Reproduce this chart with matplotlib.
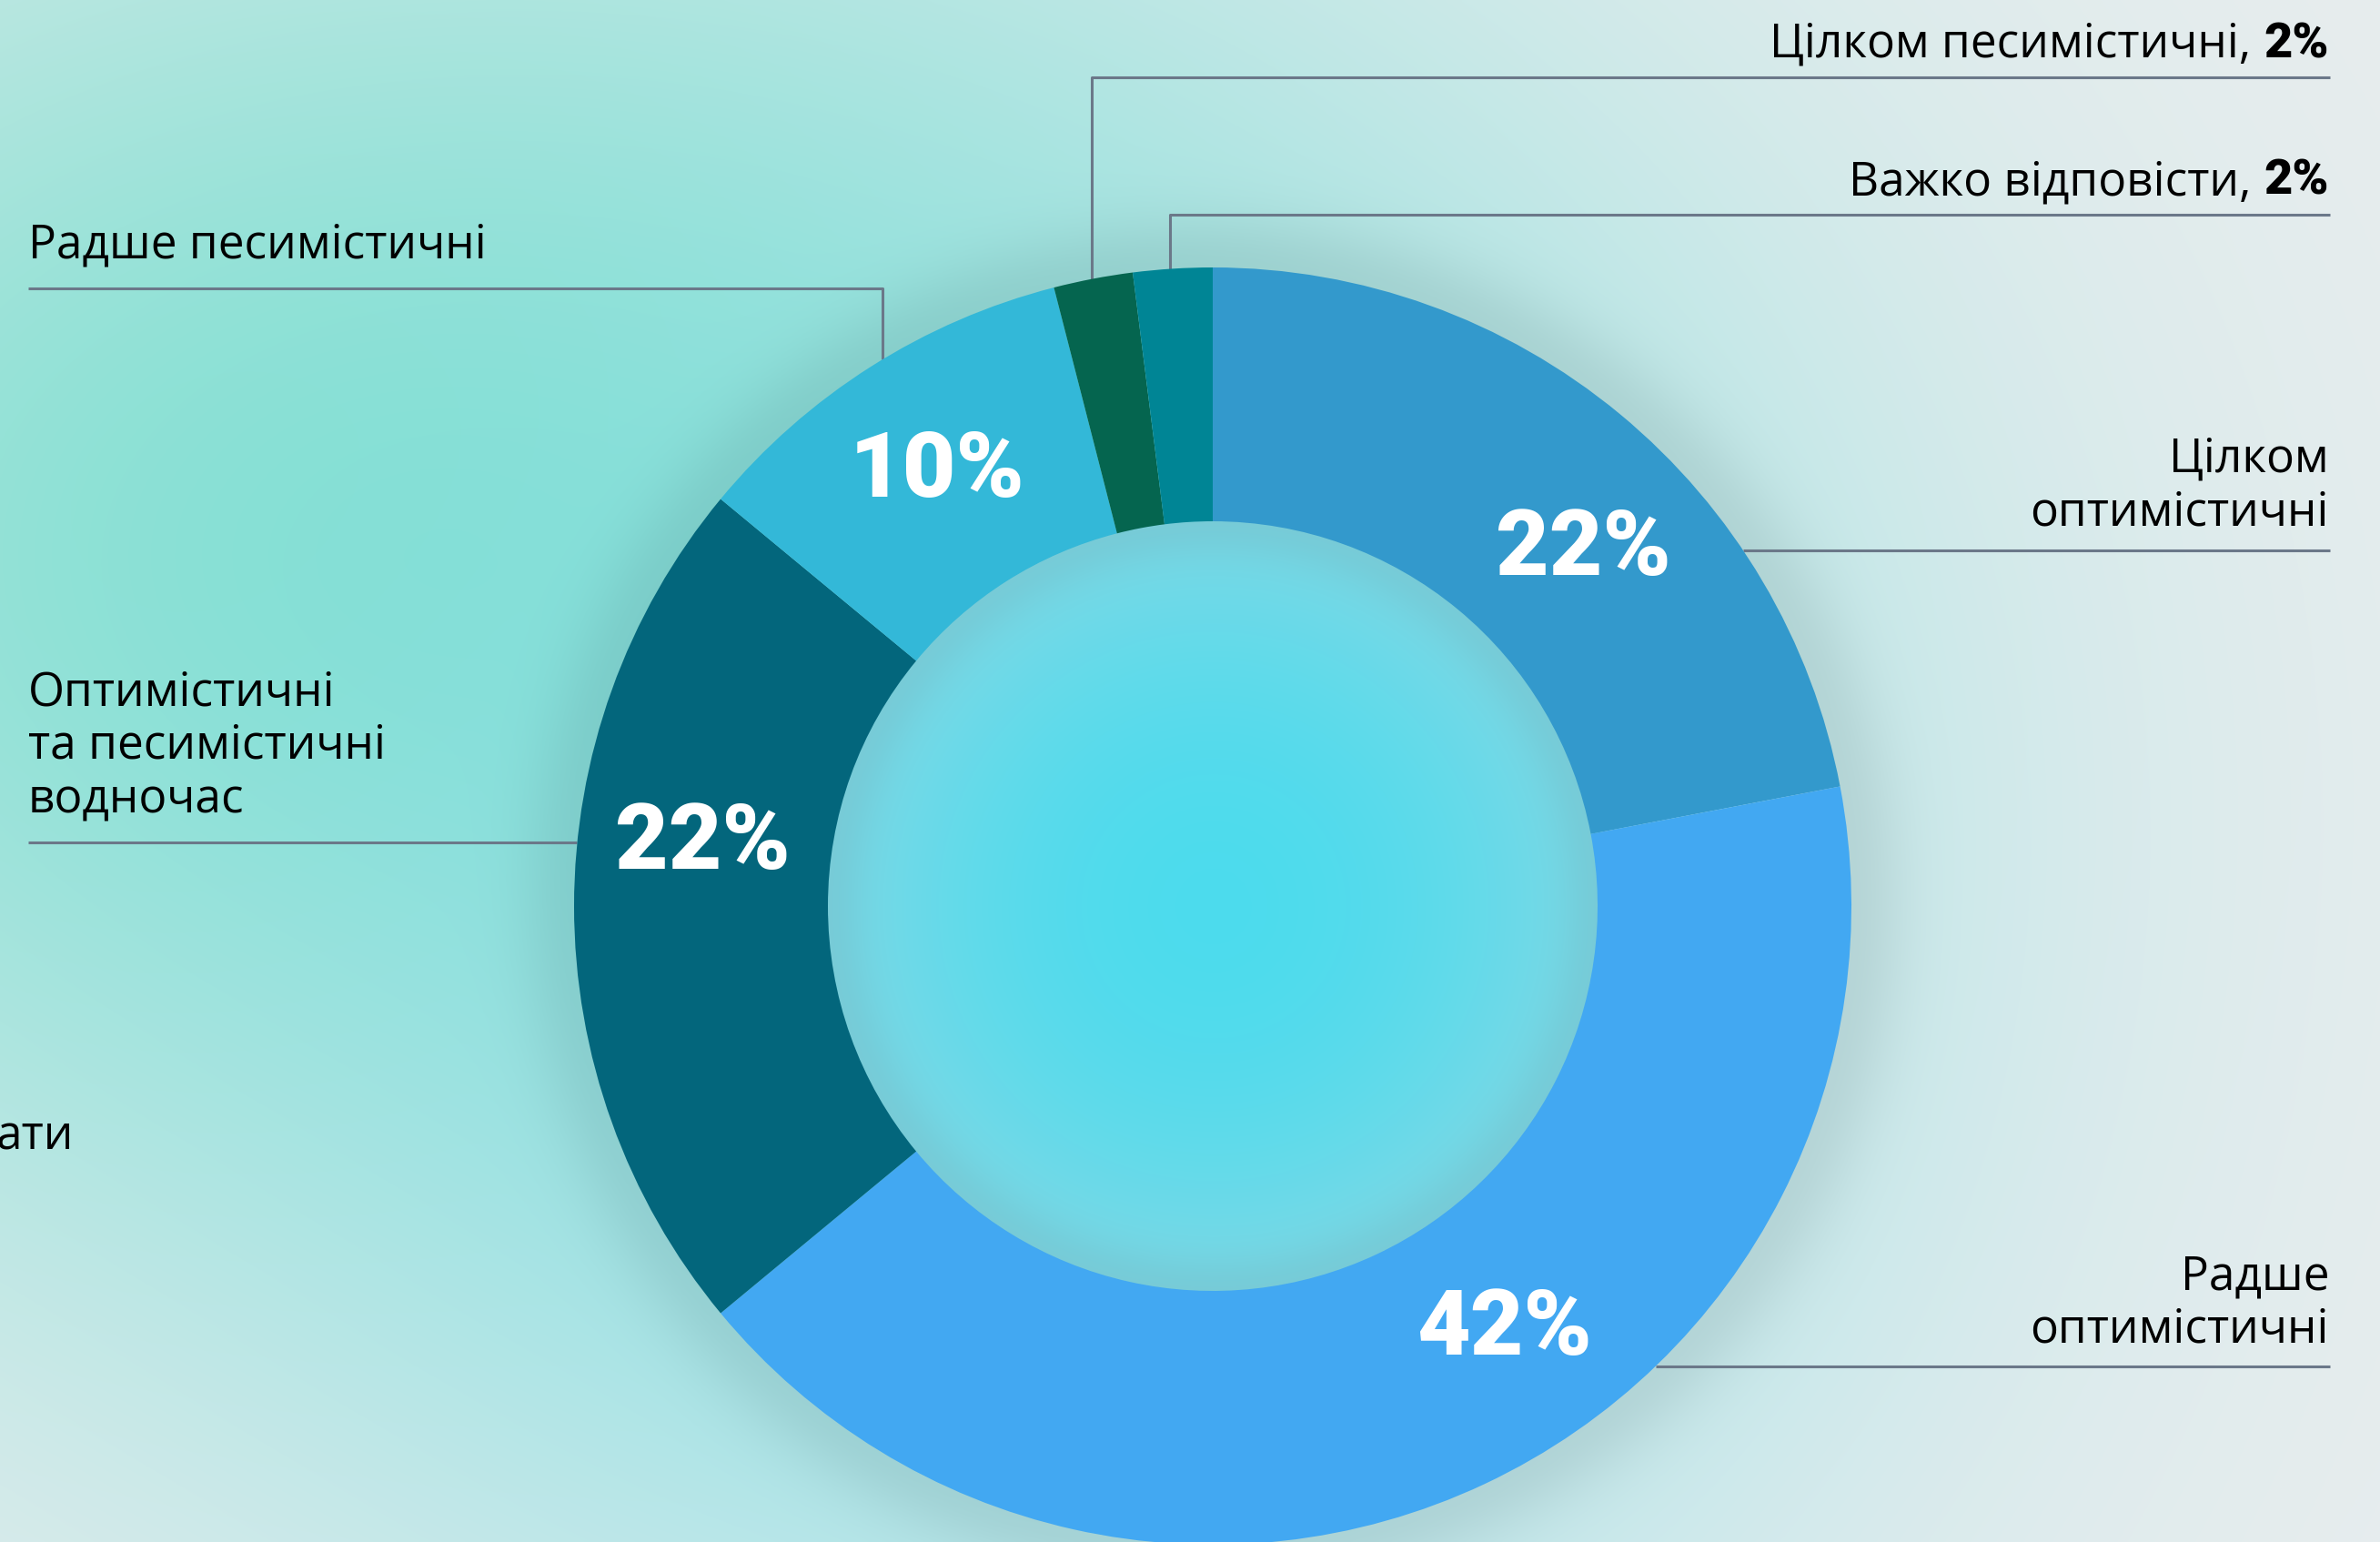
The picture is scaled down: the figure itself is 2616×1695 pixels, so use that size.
import numpy as np
import matplotlib.pyplot as plt

# survey answers, clockwise from 12 o'clock
labels = ['Цілком оптимістичні', 'Радше оптимістичні',
          'Оптимістичні та песимістичні водночас', 'Радше песимістичні',
          'Цілком песимістичні', 'Важко відповісти']
values = [22, 42, 22, 10, 2, 2]
colors = ['#3399cc', '#42a8f2', '#03667c', '#33b8d8', '#05654f', '#008595']

# canvas / layout (pixels, y measured from the top)
W, H = 2616, 1695
CX, CY = 1333, 996
R, HOLE = 702, 423
LINE_C = '#6b7889'
FONT = 'Open Sans'
PCT_FONT = 'Roboto'


def Y(y):
    return H - y


fig = plt.figure(figsize=(W / 100, H / 100), dpi=100)
ax = fig.add_axes([0, 0, 1, 1])

# soft background: teal on the left, grey on the right, cyan glow round the ring
ys, xs = np.mgrid[0:H:2, 0:W:2].astype(float)
d = np.hypot(xs - CX, ys - CY)
teal = np.array([0.53, 0.88, 0.82])
grey = np.array([0.915, 0.93, 0.935])
cyan = np.array([0.50, 0.87, 0.90])
w_t = np.exp(-(((xs - 450) / 1150) ** 2 + ((ys - 600) / 800) ** 2))[..., None]
bg = grey * (1 - w_t) + teal * w_t
dg = np.hypot((xs - CX + 180) / 1.0, (ys - CY - 80) / 1.0)
w_c = (0.75 * np.exp(-(dg / 860) ** 2))[..., None]
bg = bg * (1 - w_c) + cyan * w_c
t = (np.clip(d / HOLE, 0, 1) ** 2)[..., None]
inner = np.array([0.30, 0.86, 0.93]) * (1 - t) + np.array([0.50, 0.85, 0.90]) * t
bg = np.where((d < HOLE + 10)[..., None], inner, bg)
shade = 0.08 * np.exp(-((d - R) / 60) ** 2) + 0.06 * np.exp(-((d - HOLE) / 40) ** 2)
bg = np.clip(bg * (1 - shade[..., None]), 0, 1)
ax.imshow(bg, extent=(0, W, 0, H), origin='upper', zorder=0, interpolation='bilinear')

wedges, _ = ax.pie(values, colors=colors, startangle=90, counterclock=False,
                   center=(CX, Y(CY)), radius=R, frame=True,
                   wedgeprops=dict(width=R - HOLE, linewidth=0))
for w in wedges:
    w.set_zorder(2)

ax.set_xlim(0, W)
ax.set_ylim(0, H)
ax.set_aspect('equal')
ax.axis('off')

mids = [np.radians((w.theta1 + w.theta2) / 2) for w in wedges]

# percentage labels on the four large slices
pct_shift = [-6.5, 9.3, -7.0, 0.0]
for i, sh in enumerate(pct_shift):
    a = mids[i] + np.radians(sh)
    ax.text(CX + 565 * np.cos(a), Y(CY) + 565 * np.sin(a), f'{values[i]}%',
            color='white', fontsize=73, fontweight='black', family=PCT_FONT,
            ha='center', va='center', zorder=3)


def edge_x(y_px, side):
    dy = CY - y_px
    return CX + side * np.sqrt(R ** 2 - dy ** 2)


def edge_y(x_px):
    dx = x_px - CX
    return CY - np.sqrt(R ** 2 - dx ** 2)


kw = dict(color='black', fontsize=37, family=FONT, zorder=3)
lkw = dict(color=LINE_C, lw=2.2, zorder=1, solid_capstyle='butt')
renderer = fig.canvas.get_renderer()

# small slices at the top: elbow lines up to right-aligned labels
for i, x, y_line, base in [(4, 1200, 85, 63), (5, 1286, 236, 214)]:
    ax.plot([x, x, 2561], [Y(edge_y(x)), Y(y_line), Y(y_line)], **lkw)
    b = ax.text(2560, Y(base), f'{values[i]}%', ha='right', va='baseline',
                **{**kw, 'family': PCT_FONT, 'fontweight': 'black', 'fontsize': 39})
    x0 = b.get_window_extent(renderer).x0
    ax.text(x0 - 14, Y(base), labels[i] + ',', ha='right', va='baseline', **kw)

# right side labels
for lines, bases, y_line in [(['Цілком', 'оптимістичні'], [518, 577], 605),
                             (['Радше', 'оптимістичні'], [1417, 1475], 1502)]:
    for s, b in zip(lines, bases):
        ax.text(2560, Y(b), s, ha='right', va='baseline', **kw)
    ax.plot([edge_x(y_line, 1), 2561], [Y(y_line), Y(y_line)], **lkw)

# left side labels
for s, b in zip(['Оптимістичні', 'та песимістичні', 'водночас'], [775, 834, 893]):
    ax.text(31, Y(b), s, ha='left', va='baseline', **kw)
ax.plot([31, edge_x(926, -1)], [Y(926), Y(926)], **lkw)

ax.text(31, Y(283), labels[3], ha='left', va='baseline', **kw)
x = 970
ax.plot([31, x, x], [Y(317), Y(317), Y(edge_y(x))], **lkw)

ax.text(-4, Y(1263), 'ати', ha='left', va='baseline', **kw)

fig.savefig('out.png', dpi=100)
plt.close(fig)
